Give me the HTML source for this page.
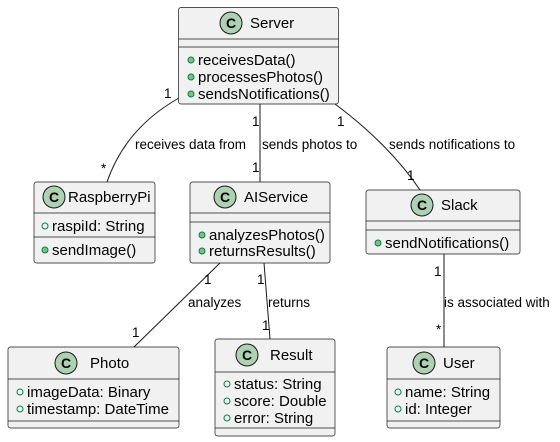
<!DOCTYPE html>
<html><head><meta charset="utf-8"><style>
html,body{margin:0;padding:0;background:#fff;}
svg{display:block;font-family:"Liberation Sans",sans-serif;}
.box{fill:#F1F1F1;stroke:#181818;stroke-width:0.7;}
.dv{stroke:#181818;stroke-width:0.7;}
.ci{fill:#ADD1B2;stroke:#181818;stroke-width:1;}
.cn{font-size:15px;fill:#000;}
.m{font-size:15px;fill:#000;}
.l{font-size:13.5px;fill:#000;}
.e{fill:none;stroke:#181818;stroke-width:1;}
.pub{fill:#84BE84;stroke:#038048;stroke-width:1;}
.fld{fill:none;stroke:#038048;stroke-width:1;}
</style></head><body>
<svg width="560" height="442" viewBox="0 0 560 442" xmlns="http://www.w3.org/2000/svg">
<path class="e" d="M179,98 C140,120 118,150 107,182"/>
<line class="e" x1="260" y1="104" x2="260" y2="182"/>
<path class="e" d="M335,104 C370,130 400,160 420,190"/>
<line class="e" x1="220" y1="263" x2="134" y2="347"/>
<line class="e" x1="264" y1="263" x2="270" y2="339"/>
<line class="e" x1="444" y1="254" x2="444" y2="347"/>
<text class="l" x="164" y="98">1</text>
<text class="l" x="101" y="173">*</text>
<text class="l" x="135" y="149">receives data from</text>
<text class="l" x="252" y="126">1</text>
<text class="l" x="252" y="172">1</text>
<text class="l" x="262" y="149">sends photos to</text>
<text class="l" x="337" y="126">1</text>
<text class="l" x="407" y="180">1</text>
<text class="l" x="389" y="149">sends notifications to</text>
<text class="l" x="204" y="284">1</text>
<text class="l" x="132" y="337">1</text>
<text class="l" x="188" y="307">analyzes</text>
<text class="l" x="257" y="284">1</text>
<text class="l" x="262" y="330">1</text>
<text class="l" x="268" y="307">returns</text>
<text class="l" x="434" y="276">1</text>
<text class="l" x="436" y="334">*</text>
<text class="l" x="444" y="307">is associated with</text>

<rect class="box" x="178.5" y="7.5" width="160" height="96.5" rx="2.5"/>
<line class="dv" x1="178.5" y1="39" x2="338.5" y2="39"/>
<line class="dv" x1="178.5" y1="47" x2="338.5" y2="47"/>
<circle class="ci" cx="231" cy="23" r="11"/><text x="231" y="28" text-anchor="middle" style="font-size:14px;font-weight:bold">C</text>
<text class="cn" x="250" y="28">Server</text>
<circle class="pub" cx="191" cy="60" r="3"/><text class="m" x="198" y="65">receivesData()</text>
<circle class="pub" cx="191" cy="77" r="3"/><text class="m" x="198" y="82">processesPhotos()</text>
<circle class="pub" cx="191" cy="94" r="3"/><text class="m" x="198" y="99">sendsNotifications()</text>

<rect class="box" x="34" y="182" width="121" height="81" rx="2.5"/>
<line class="dv" x1="34" y1="213" x2="155" y2="213"/>
<line class="dv" x1="34" y1="237" x2="155" y2="237"/>
<circle class="ci" cx="54" cy="197" r="11"/><text x="54" y="202" text-anchor="middle" style="font-size:14px;font-weight:bold">C</text>
<text class="cn" x="68" y="202">RaspberryPi</text>
<circle class="fld" cx="45" cy="226" r="3"/><text class="m" x="52" y="231">raspiId: String</text>
<circle class="pub" cx="45" cy="250" r="3"/><text class="m" x="52" y="255">sendImage()</text>

<rect class="box" x="190" y="182" width="140" height="81" rx="2.5"/>
<line class="dv" x1="190" y1="213" x2="330" y2="213"/>
<line class="dv" x1="190" y1="222" x2="330" y2="222"/>
<circle class="ci" cx="225" cy="197" r="11"/><text x="225" y="202" text-anchor="middle" style="font-size:14px;font-weight:bold">C</text>
<text class="cn" x="244" y="202">AIService</text>
<circle class="pub" cx="202" cy="235" r="3"/><text class="m" x="209" y="240">analyzesPhotos()</text>
<circle class="pub" cx="202" cy="251" r="3"/><text class="m" x="209" y="256">returnsResults()</text>

<rect class="box" x="366" y="190" width="154" height="64" rx="2.5"/>
<line class="dv" x1="366" y1="221" x2="520" y2="221"/>
<line class="dv" x1="366" y1="230" x2="520" y2="230"/>
<circle class="ci" cx="422" cy="205" r="11"/><text x="422" y="210" text-anchor="middle" style="font-size:14px;font-weight:bold">C</text>
<text class="cn" x="441" y="210">Slack</text>
<circle class="pub" cx="378" cy="243" r="3"/><text class="m" x="385" y="248">sendNotifications()</text>

<rect class="box" x="8" y="347" width="171" height="81" rx="2.5"/>
<line class="dv" x1="8" y1="379" x2="179" y2="379"/>
<line class="dv" x1="8" y1="421" x2="179" y2="421"/>
<circle class="ci" cx="66" cy="363" r="11"/><text x="66" y="368" text-anchor="middle" style="font-size:14px;font-weight:bold">C</text>
<text class="cn" x="90" y="368">Photo</text>
<circle class="fld" cx="20" cy="392" r="3"/><text class="m" x="27" y="397">imageData: Binary</text>
<circle class="fld" cx="20" cy="409" r="3"/><text class="m" x="27" y="414">timestamp: DateTime</text>

<rect class="box" x="215" y="339" width="120" height="97" rx="2.5"/>
<line class="dv" x1="215" y1="372" x2="335" y2="372"/>
<line class="dv" x1="215" y1="428" x2="335" y2="428"/>
<circle class="ci" cx="247" cy="355" r="11"/><text x="247" y="360" text-anchor="middle" style="font-size:14px;font-weight:bold">C</text>
<text class="cn" x="270" y="360">Result</text>
<circle class="fld" cx="227" cy="384" r="3"/><text class="m" x="234" y="389">status: String</text>
<circle class="fld" cx="227" cy="401" r="3"/><text class="m" x="234" y="406">score: Double</text>
<circle class="fld" cx="227" cy="418" r="3"/><text class="m" x="234" y="423">error: String</text>

<rect class="box" x="387" y="347" width="113" height="81" rx="2.5"/>
<line class="dv" x1="387" y1="379" x2="500" y2="379"/>
<line class="dv" x1="387" y1="421" x2="500" y2="421"/>
<circle class="ci" cx="424" cy="363" r="11"/><text x="424" y="368" text-anchor="middle" style="font-size:14px;font-weight:bold">C</text>
<text class="cn" x="443" y="368">User</text>
<circle class="fld" cx="398" cy="392" r="3"/><text class="m" x="405" y="397">name: String</text>
<circle class="fld" cx="398" cy="409" r="3"/><text class="m" x="405" y="414">id: Integer</text>
</svg>
</body></html>
